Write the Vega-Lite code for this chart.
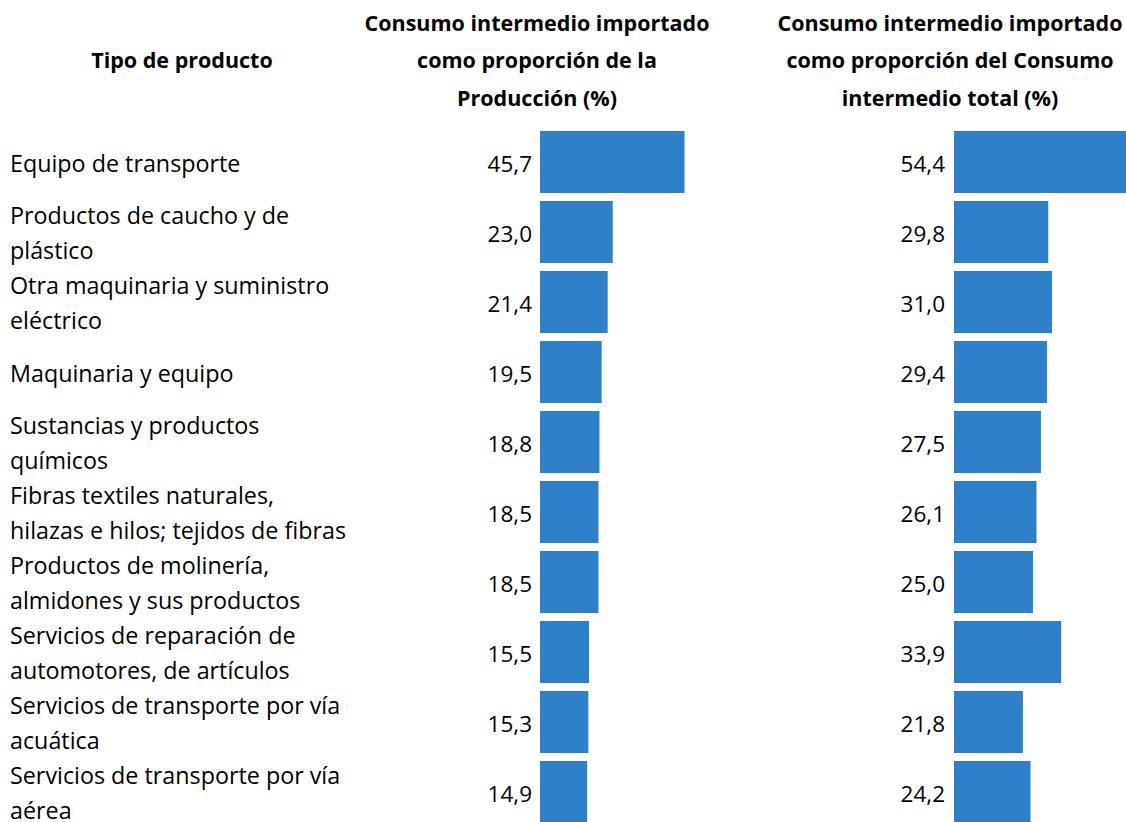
{
  "$schema": "https://vega.github.io/schema/vega-lite/v6.json",
  "padding": {"top": 13, "left": 0, "right": 0, "bottom": 0},
  "spacing": 0,
  "bounds": "flush",
  "config": {
    "view": {"stroke": null},
    "font": "Open Sans",
    "locale": {"number": {"decimal": ",", "thousands": ".", "grouping": [3], "currency": ["", ""]}},
    "title": {"font": "Open Sans", "fontSize": 21.5, "fontWeight": "bold", "color": "#000000", "lineHeight": 37.5, "offset": 17, "anchor": "middle"}
  },
  "data": {"values": [
    {"producto": "Equipo de transporte", "centro": "Equipo de transporte", "arriba": "", "abajo": "", "prod": 45.7, "ci": 54.4},
    {"producto": "Productos de caucho y de plástico", "centro": "", "arriba": "Productos de caucho y de", "abajo": "plástico", "prod": 23.0, "ci": 29.8},
    {"producto": "Otra maquinaria y suministro eléctrico", "centro": "", "arriba": "Otra maquinaria y suministro", "abajo": "eléctrico", "prod": 21.4, "ci": 31.0},
    {"producto": "Maquinaria y equipo", "centro": "Maquinaria y equipo", "arriba": "", "abajo": "", "prod": 19.5, "ci": 29.4},
    {"producto": "Sustancias y productos químicos", "centro": "", "arriba": "Sustancias y productos", "abajo": "químicos", "prod": 18.8, "ci": 27.5},
    {"producto": "Fibras textiles naturales, hilazas e hilos; tejidos de fibras", "centro": "", "arriba": "Fibras textiles naturales,", "abajo": "hilazas e hilos; tejidos de fibras", "prod": 18.5, "ci": 26.1},
    {"producto": "Productos de molinería, almidones y sus productos", "centro": "", "arriba": "Productos de molinería,", "abajo": "almidones y sus productos", "prod": 18.5, "ci": 25.0},
    {"producto": "Servicios de reparación de automotores, de artículos", "centro": "", "arriba": "Servicios de reparación de", "abajo": "automotores, de artículos", "prod": 15.5, "ci": 33.9},
    {"producto": "Servicios de transporte por vía acuática", "centro": "", "arriba": "Servicios de transporte por vía", "abajo": "acuática", "prod": 15.3, "ci": 21.8},
    {"producto": "Servicios de transporte por vía aérea", "centro": "", "arriba": "Servicios de transporte por vía", "abajo": "aérea", "prod": 14.9, "ci": 24.2}
  ]},
  "hconcat": [
    {
      "width": 540,
      "height": 700,
      "title": {"text": [" ", "Tipo de producto", " "], "dx": -88},
      "encoding": {
        "y": {"field": "producto", "type": "nominal", "sort": null, "axis": null, "scale": {"paddingInner": 0.114, "paddingOuter": 0.057}}
      },
      "layer": [
        {
          "mark": {"type": "text", "align": "left", "baseline": "middle", "fontSize": 23.3, "color": "#000000", "x": 10, "dy": 2.5},
          "encoding": {"text": {"field": "centro"}}
        },
        {
          "mark": {"type": "text", "align": "left", "baseline": "middle", "fontSize": 23.3, "color": "#000000", "x": 10, "dy": -15},
          "encoding": {"text": {"field": "arriba"}}
        },
        {
          "mark": {"type": "text", "align": "left", "baseline": "middle", "fontSize": 23.3, "color": "#000000", "x": 10, "dy": 20},
          "encoding": {"text": {"field": "abajo"}}
        }
      ]
    },
    {
      "width": 414,
      "height": 700,
      "title": {"text": ["Consumo intermedio importado", "como proporción de la", "Producción (%)"], "dx": -210},
      "encoding": {
        "y": {"field": "producto", "type": "nominal", "sort": null, "axis": null, "scale": {"paddingInner": 0.114, "paddingOuter": 0.057}}
      },
      "layer": [
        {
          "mark": {"type": "bar", "color": "#2E80C8"},
          "encoding": {
            "x": {"field": "prod", "type": "quantitative", "axis": null, "scale": {"domain": [0, 130.9], "nice": false, "zero": true}}
          }
        },
        {
          "mark": {"type": "text", "align": "right", "baseline": "middle", "fontSize": 22.5, "dx": -8, "dy": 2.5, "color": "#000000"},
          "encoding": {
            "x": {"datum": 0, "type": "quantitative"},
            "text": {"field": "prod", "type": "quantitative", "format": ".1f"}
          }
        }
      ]
    },
    {
      "width": 172,
      "height": 700,
      "title": {"text": ["Consumo intermedio importado", "como proporción del Consumo", "intermedio total (%)"], "dx": -90},
      "encoding": {
        "y": {"field": "producto", "type": "nominal", "sort": null, "axis": null, "scale": {"paddingInner": 0.114, "paddingOuter": 0.057}}
      },
      "layer": [
        {
          "mark": {"type": "bar", "color": "#2E80C8"},
          "encoding": {
            "x": {"field": "ci", "type": "quantitative", "axis": null, "scale": {"domain": [0, 54.4], "nice": false, "zero": true}}
          }
        },
        {
          "mark": {"type": "text", "align": "right", "baseline": "middle", "fontSize": 22.5, "dx": -9, "dy": 2.5, "color": "#000000"},
          "encoding": {
            "x": {"datum": 0, "type": "quantitative"},
            "text": {"field": "ci", "type": "quantitative", "format": ".1f"}
          }
        }
      ]
    }
  ]
}
